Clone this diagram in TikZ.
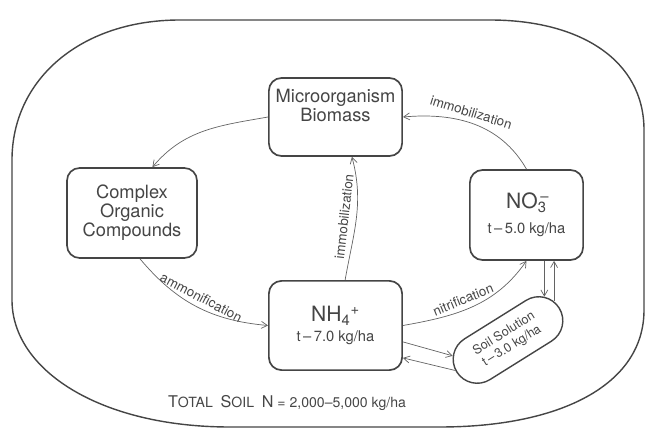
\documentclass[tikz,border=0pt]{standalone}
\usepackage{fontspec}
\setmainfont{TeX Gyre Heros}
\usetikzlibrary{positioning, arrows.meta, shapes.misc}
\definecolor{ink}{HTML}{454545}
\definecolor{wire}{HTML}{636363}
\tikzset{%
	>={Straight Barb[angle=60:5pt]},
	every edge/.append style={draw=wire, line width=0.5pt},
	box/.style = {draw=ink, line width=1.2pt, rounded corners=9pt, align=center, text=ink, font=\fontsize{13}{12}\selectfont},
	pill/.style = {draw=ink, line width=1pt, rounded rectangle, align=center, text=ink, font=\fontsize{9}{10.5}\selectfont, minimum width=3.25cm, minimum height=1.2cm, rotate=32},
	tag/.style = {font=\fontsize{9.5}{10}\selectfont, text=ink, sloped, inner sep=3.5pt},
	total/.style = {text=ink, font=\fontsize{10}{11}\selectfont}
}
\begin{document}
\begin{tikzpicture}[x=0.025cm, y=0.025cm]
			\useasboundingbox (0,0) rectangle (647,435);
			\draw [ink, line width=1pt] (12,275) -- (12,135) .. controls (12,65) and (100,8) .. (230,8) -- (440,8) .. controls (560,8) and (644,50) .. (644,125) -- (644,305) .. controls (644,375) and (580,415) .. (490,415) -- (180,415) .. controls (80,415) and (12,355) .. (12,275) -- cycle;
			\node [box, minimum width=3.33cm, minimum height=1.95cm] (micro) at (335.5,318) {Microorganism\\Biomass\\\rule{0pt}{0.55cm}};
			\node [box, minimum width=3.25cm, minimum height=2.25cm] (cplx) at (132,222) {Complex\\Organic\\Compounds};
			\node [box, minimum width=3.33cm, minimum height=2.23cm] (nh4) at (335.5,109.5) {\fontsize{15}{15}\selectfont NH\textsubscript{4}\textsuperscript{+}\\[2pt]\fontsize{10.5}{11}\selectfont t\,–\,7.0 kg/ha};
			\node [box, minimum width=2.83cm, minimum height=2.25cm] (no3) at (526.5,220) {\fontsize{15}{15}\selectfont NO\rlap{\textsuperscript{\,–}}\textsubscript{3}\\[6pt]\fontsize{10.5}{11}\selectfont t\,–\,5.0 kg/ha};
			\node [pill] (soil) at (508,95) {Soil Solution\\t\,–\,3.0 kg/ha};
			\node [total] (sum) at (287,32) {{\fontsize{11.5}{12}\selectfont T}OTAL\ \ {\fontsize{11.5}{12}\selectfont S}OIL\ \ {\fontsize{11.5}{12}\selectfont N} = 2,000–5,000 kg/ha};
			\path [->] (micro.west) edge [out=190, in=50] (cplx.66);
			\path [->] ([xshift=0.2cm]cplx.south) edge [out=-50, in=175] node [tag, above, pos=0.5] {ammonification} (nh4.west);
			\path [->] ([xshift=0.24cm]nh4.north) edge [out=80, in=-75] node [tag, above, inner sep=5pt] {immobilization} ([xshift=0.41cm]micro.south);
			\path [->] (nh4.east) edge [out=10, in=-125] node [tag, above, pos=0.45] {nitrification} (no3.south);
			\path [<-] (micro.east) edge [out=5, in=120] node [tag, above, pos=0.45] {immobilization} (no3.north);
			\path [->] (soil.18 |- no3.south) edge (soil.18);
			\path [<-] (soil.8 |- no3.south) edge (soil.8);
			\path [->] ([yshift=-0.41cm]nh4.east) edge (soil.164);
			\path [<-] ([yshift=-0.81cm]nh4.east) edge (soil.178);
\end{tikzpicture}
\end{document}
